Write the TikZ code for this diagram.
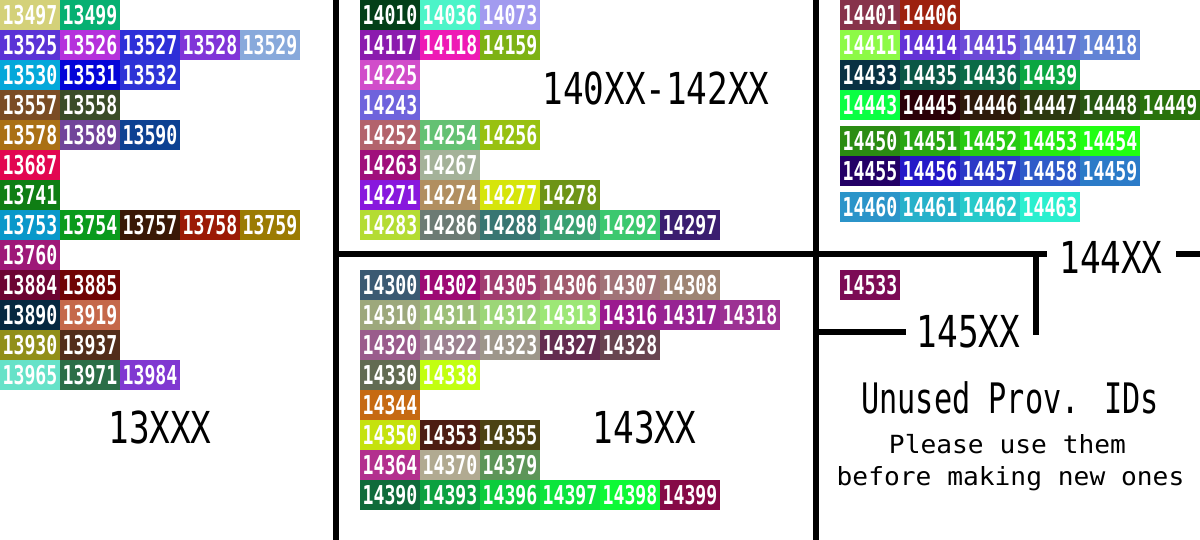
\documentclass[tikz,border=0pt]{standalone}
\usepackage{fontspec}
\newfontfamily\cellfont{DejaVu Sans Mono}[FakeStretch=0.70]
\newfontfamily\labfont{DejaVu Sans Mono}[FakeStretch=0.78]
\newfontfamily\unfont{DejaVu Sans Mono}[FakeStretch=0.72]
\newfontfamily\smfont{DejaVu Sans Mono}[FakeStretch=1.05]
\tikzset{
  cellbox/.style={minimum width=60pt, minimum height=30pt, inner sep=0pt, outer sep=0pt,
    text=white, font={\cellfont\bfseries\fontsize{26}{26}\selectfont}},
  biglabel/.style={inner sep=0pt, anchor=base, font={\labfont\fontsize{44}{44}\selectfont}},
  unlabel/.style={inner sep=0pt, anchor=base, font={\unfont\fontsize{42}{42}\selectfont}},
  smlabel/.style={inner sep=0pt, anchor=base, font={\smfont\fontsize{25}{25}\selectfont}},
  divider/.style={line width=6pt, line cap=butt, draw=black}
}
\newcommand\cellrow[3]{%
  \foreach \c/\l [count=\i from 0] in {#3} {%
    \edef\tmpdef{\noexpand\definecolor{k\l}{HTML}{\c}}\tmpdef
    \node[cellbox, fill=k\l] (c\l) at ({#1+30+60*\i},{#2+15}) {\l};
  }%
}
\begin{document}
\begin{tikzpicture}[x=1pt, y=-1pt]
\useasboundingbox[fill=white] (0,0) rectangle (1200,540);

% ---- 13XXX ----
\cellrow{0}{0}{D4D179/13497, 06B072/13499}
\cellrow{0}{30}{5A33D6/13525, B531DC/13526, 2E2FD8/13527, 8035D8/13528, 88A9DB/13529}
\cellrow{0}{60}{04A8DA/13530, 0404D8/13531, 2D33D6/13532}
\cellrow{0}{90}{7A4C24/13557, 3A4C28/13558}
\cellrow{0}{120}{AA7014/13578, 71449A/13589, 0D4192/13590}
\cellrow{0}{150}{E20651/13687}
\cellrow{0}{180}{0F7E14/13741}
\cellrow{0}{210}{0898CA/13753, 0A9A1C/13754, 391806/13757, 9B1A05/13758, 9B7B02/13759}
\cellrow{0}{240}{9E1878/13760}
\cellrow{0}{270}{6C0432/13884, 700404/13885}
\cellrow{0}{300}{062840/13890, C5684A/13919}
\cellrow{0}{330}{918F19/13930, 522D1A/13937}
\cellrow{0}{360}{66E2C8/13965, 2B6E47/13971, 8038D1/13984}

% ---- 140XX-142XX ----
\cellrow{360}{0}{033F18/14010, 4CF4C8/14036, A29BEF/14073}
\cellrow{360}{30}{8B1BAE/14117, EE1AB5/14118, 7DB214/14159}
\cellrow{360}{60}{D14DCA/14225}
\cellrow{360}{90}{6F63DC/14243}
\cellrow{360}{120}{B3636C/14252, 64C173/14254, 98C111/14256}
\cellrow{360}{150}{A00F7C/14263, A4B299/14267}
\cellrow{360}{180}{8818DD/14271, B18F60/14274, D6E50B/14277, 6E9416/14278}
\cellrow{360}{210}{B4DC33/14283, 6C7B74/14286, 387672/14288, 3AA072/14290, 3CC86F/14292, 3B1E70/14297}

% ---- 143XX ----
\cellrow{360}{270}{3B5A72/14300, 9D0A74/14302, A13E70/14305, A15B6E/14306, A17377/14307, 9E8473/14308}
\cellrow{360}{300}{9DA87C/14310, 9DBF78/14311, 9CD677/14312, 9DE776/14313, 9B1A8F/14316, 972393/14317, 9C3293/14318}
\cellrow{360}{330}{9A5C8C/14320, 9C8290/14322, 9D968A/14323, 642C50/14327, 684550/14328}
\cellrow{360}{360}{626B52/14330, C2FF10/14338}
\cellrow{360}{390}{C66A12/14344}
\cellrow{360}{420}{C5E20D/14350, 4D1D12/14353, 4C4313/14355}
\cellrow{360}{450}{B3308E/14364, B1AA91/14370, 5D9558/14379}
\cellrow{360}{480}{0F6B3A/14390, 0CA13F/14393, 0CCD3C/14396, 0CE53C/14397, 0DF936/14398, 860A47/14399}

% ---- 144XX ----
\cellrow{840}{0}{87334B/14401, 9D210E/14406}
\cellrow{840}{30}{8DFA46/14411, 6332D6/14414, 6B4AD7/14415, 6271D4/14417, 6283D5/14418}
\cellrow{840}{60}{083143/14433, 0A5745/14435, 0A6B46/14436, 0BA641/14439}
\cellrow{840}{90}{0AFF43/14443, 2B0008/14445, 2E1B0B/14446, 2C3910/14447, 285812/14448, 29730C/14449}
\cellrow{840}{126}{2B8C12/14450, 29A613/14451, 28CA12/14452, 26EA10/14453, 21FF13/14454}
\cellrow{840}{156}{230066/14455, 2419C8/14456, 2B39C7/14457, 2E5BC9/14458, 2B7BC8/14459}
\cellrow{840}{192}{2B94C9/14460, 26B1CA/14461, 27CACA/14462, 2BEFCF/14463}

% ---- 145XX ----
\cellrow{840}{270}{7C0B55/14533}

% ---- labels ----
\node[biglabel] (l13) at (160,443) {13XXX};
\node[biglabel] (l140) at (656,105) {140XX-142XX};
\node[biglabel] (l143) at (644.5,443) {143XX};
\node[biglabel] (l144) at (1111,273) {144XX};
\node[biglabel] (l145) at (968.5,347) {145XX};
\node[unlabel] (lun) at (1010,413) {Unused Prov. IDs};
\node[smlabel] (lpl) at (1007.5,453) {Please use them};
\node[smlabel] (lbe) at (1010.5,485) {before making new ones};

% ---- dividers ----
\coordinate (vlTop) at (336,0);
\coordinate (vlBot) at (336,540);
\coordinate (vrTop) at (816,0);
\coordinate (vrBot) at (816,540);
\coordinate (hL) at (336,254.5);
\coordinate (hR) at (1047,254.5);
\coordinate (hR2a) at (1176,254.5);
\coordinate (hR2b) at (1200,254.5);
\coordinate (brTop) at (1036,251.5);
\coordinate (brBot) at (1036,335);
\coordinate (loL) at (816,331.5);
\coordinate (loR) at (906,331.5);
\draw[divider] (vlTop) -- (vlBot);
\draw[divider] (vrTop) -- (vrBot);
\draw[divider] (hL) -- (hR);
\draw[divider] (hR2a) -- (hR2b);
\draw[divider] (brTop) -- (brBot);
\fill[black] (1033,329) rectangle (1039,335);
\draw[divider] (loL) -- (loR);
\end{tikzpicture}
\end{document}
